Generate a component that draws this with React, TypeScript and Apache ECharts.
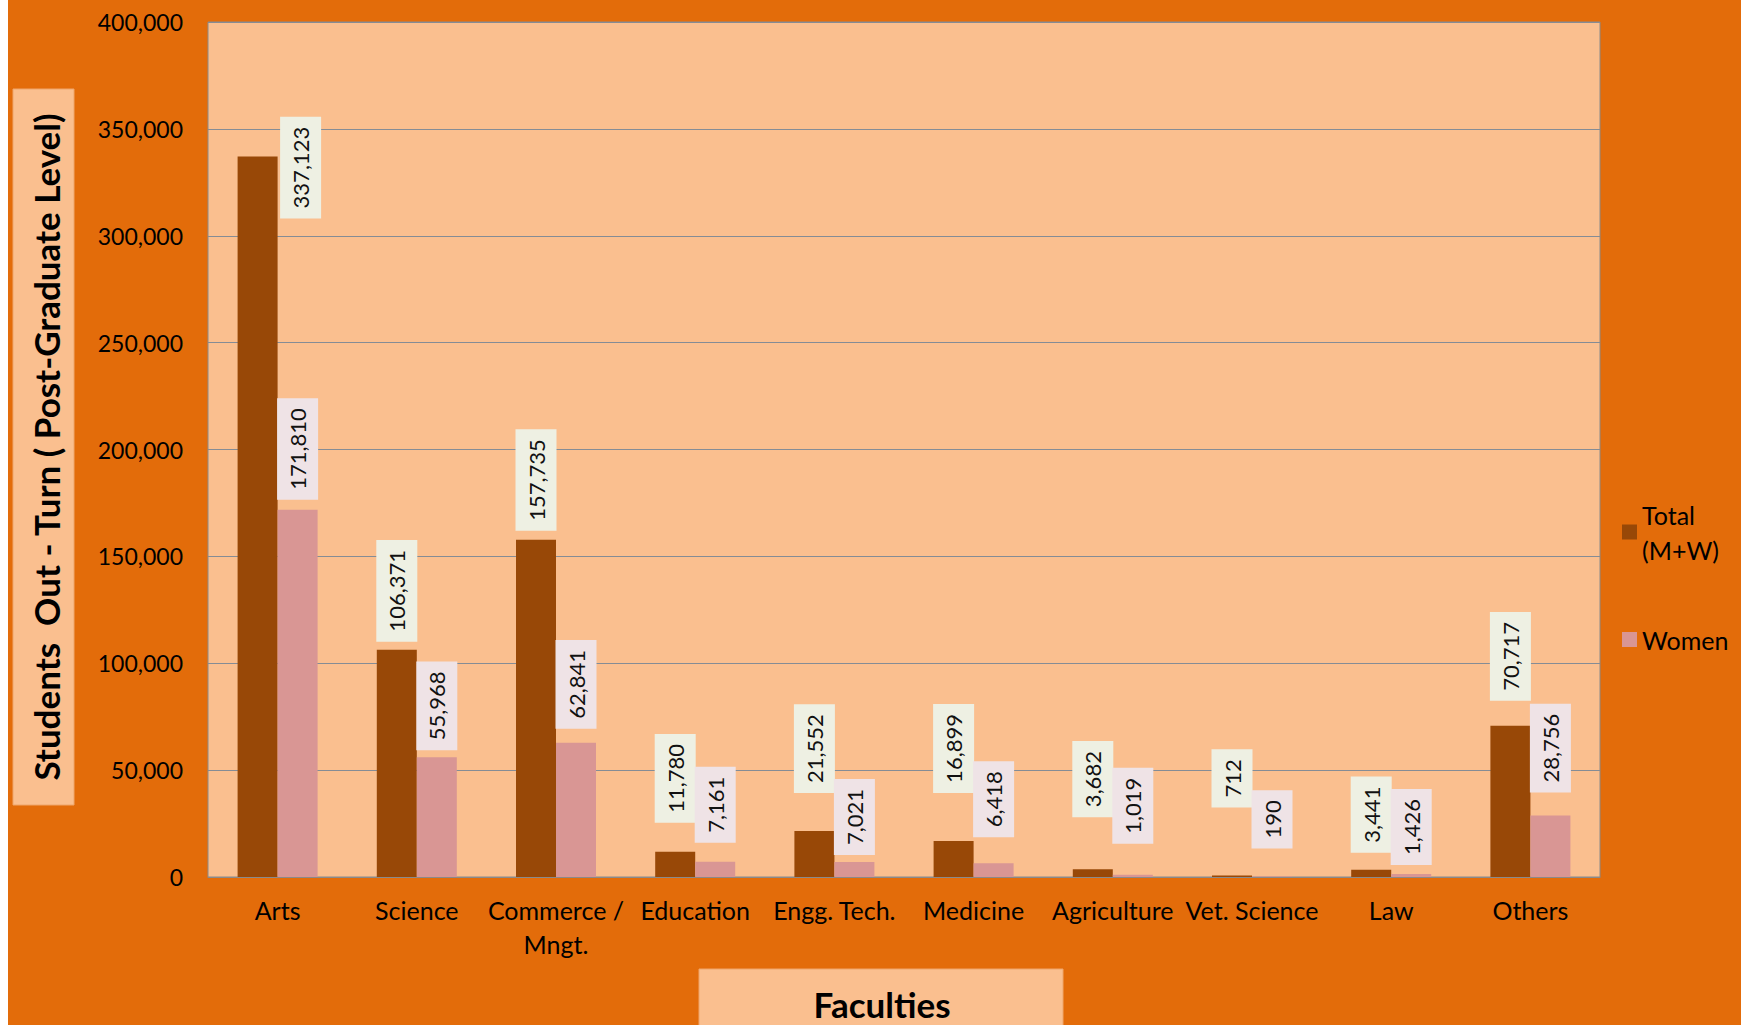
import React, { useEffect, useRef } from "react";
import * as echarts from "echarts";

// ---------- data ----------
const categories = [
  "Arts",
  "Science",
  "Commerce / Mngt.",
  "Education",
  "Engg. Tech.",
  "Medicine",
  "Agriculture",
  "Vet. Science",
  "Law",
  "Others",
];
const totalValues = [337123, 106371, 157735, 11780, 21552, 16899, 3682, 712, 3441, 70717];
const womenValues = [171810, 55968, 62841, 7161, 7021, 6418, 1019, 190, 1426, 28756];
const seriesNames = ["Total (M+W)", "Women"];
const yMin = 0;
const yMax = 400000;
const yInterval = 50000;

// ---------- label layout (gap between bar top and its label, px) ----------
const totalLabelGap = [0, 8, 9, 29, 38, 48, 52, 68, 17, 25];
const womenLabelGap = [10, 7, 14, 19, 7, 26, 31, 28, 9, 23];

const fmt = (v: number) => Number(v).toLocaleString("en-US");

export default function App() {
  const ref = useRef<HTMLDivElement>(null);

  useEffect(() => {
    if (!ref.current) return;
    const chart = echarts.init(ref.current, undefined, { renderer: "svg" });

    const labelBase = {
      show: true,
      position: "top",
      rotate: 90,
      align: "left",
      verticalAlign: "middle",
      fontFamily: "Lato",
      fontSize: 22,
      lineHeight: 25,
      color: "#111111",
      padding: [8, 10],
      formatter: (p: any) => fmt(p.value),
    };

    const option: any = {
      animation: false,
      backgroundColor: "#E36C0A",
      textStyle: { fontFamily: "Lato" },
      grid: {
        left: 200,
        top: 22,
        right: 141,
        bottom: 148,
        show: true,
        backgroundColor: "#FABF8F",
        borderColor: "#8A8A8A",
        borderWidth: 1,
        containLabel: false,
      },
      legend: {
        orient: "vertical",
        left: 1614,
        top: 497,
        padding: 0,
        itemWidth: 15,
        itemHeight: 15,
        itemGap: 55,
        icon: "rect",
        data: seriesNames,
        formatter: (name: string) => name.replace(" (", "\n("),
        textStyle: { fontFamily: "Lato", fontSize: 25, color: "#000", lineHeight: 35 },
      },
      xAxis: {
        type: "category",
        data: categories,
        axisLine: { show: true, lineStyle: { color: "#8A8A8A", width: 1 } },
        axisTick: { show: false },
        axisLabel: {
          interval: 0,
          fontFamily: "Lato",
          fontSize: 25,
          lineHeight: 34,
          color: "#000",
          margin: 16,
          formatter: (v: string) => v.replace("/ ", "/\n"),
        },
      },
      yAxis: {
        type: "value",
        min: yMin,
        max: yMax,
        interval: yInterval,
        axisLine: { show: false },
        axisTick: { show: false },
        axisLabel: {
          fontFamily: "Lato",
          fontSize: 23,
          color: "#000",
          margin: 25,
          formatter: (v: number) => fmt(v),
        },
        splitLine: { lineStyle: { color: "#858C95", width: 1 } },
      },
      series: [
        {
          type: "bar",
          name: seriesNames[0],
          barWidth: 40,
          barGap: "0%",
          itemStyle: { color: "#984807" },
          label: { ...labelBase, backgroundColor: "#EEF0E3" },
          // the first label sits beside its bar, as in the reference
          data: totalValues.map((v, i) => ({
            value: v,
            label: i === 0 ? { position: [63, 62] } : { distance: totalLabelGap[i] },
          })),
        },
        {
          type: "bar",
          name: seriesNames[1],
          barWidth: 40,
          barGap: "0%",
          itemStyle: { color: "#D99694" },
          label: { ...labelBase, backgroundColor: "#EFE3E6" },
          data: womenValues.map((v, i) => ({
            value: v,
            label: { distance: womenLabelGap[i] },
          })),
        },
      ],
      graphic: [
        {
          type: "rect",
          shape: { x: 5, y: 89, width: 61, height: 716 },
          style: { fill: "#FABF8F", stroke: "#EFA56A", lineWidth: 1 },
        },
        {
          type: "text",
          x: 38,
          y: 447,
          rotation: Math.PI / 2,
          style: {
            text: "Students  Out - Turn ( Post-Graduate Level)",
            fill: "#000",
            fontFamily: "Lato",
            fontWeight: "bold",
            fontSize: 35,
            align: "center",
            verticalAlign: "middle",
            textAlign: "center",
            textVerticalAlign: "middle",
          },
        },
        {
          type: "rect",
          shape: { x: 691, y: 969, width: 364, height: 70 },
          style: { fill: "#FABF8F", stroke: "#EFA56A", lineWidth: 1 },
        },
        {
          type: "text",
          x: 874,
          y: 1004,
          style: {
            text: "Faculties",
            fill: "#000",
            fontFamily: "Lato",
            fontWeight: "bold",
            fontSize: 35,
            align: "center",
            verticalAlign: "middle",
            textAlign: "center",
            textVerticalAlign: "middle",
          },
        },
      ],
    };

    chart.setOption(option);
    return () => chart.dispose();
  }, []);

  return (
    <div style={{ position: "fixed", left: 0, top: 0, width: 1741, height: 1025, background: "#ffffff" }}>
      <div ref={ref} style={{ position: "absolute", left: 8, top: 0, width: 1733, height: 1025 }} />
    </div>
  );
}
